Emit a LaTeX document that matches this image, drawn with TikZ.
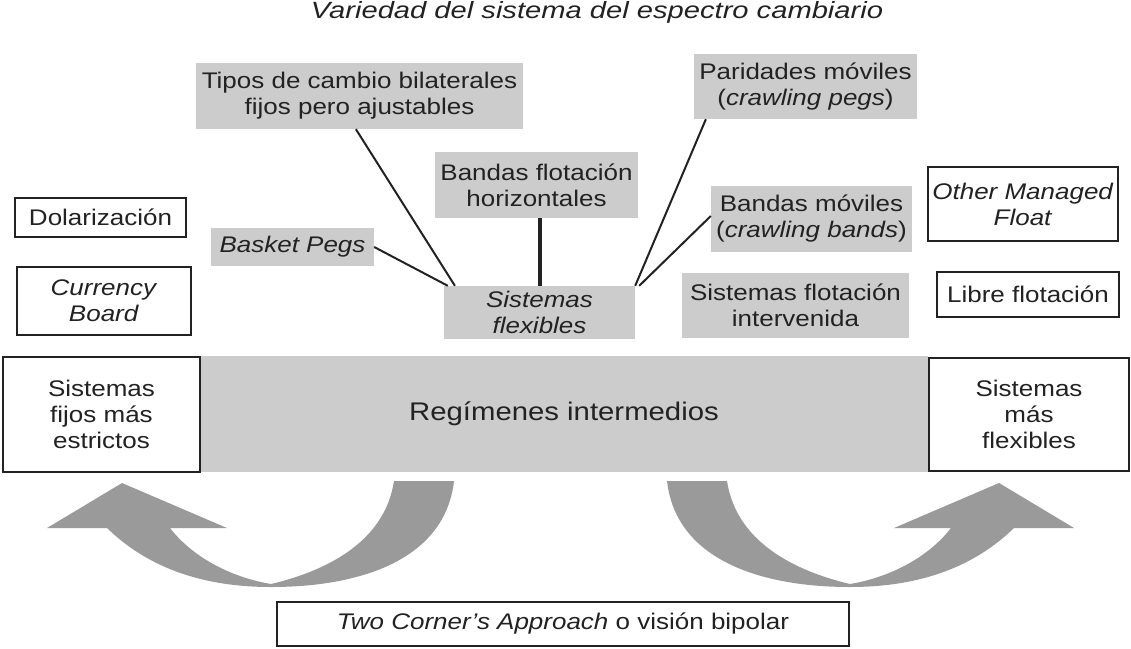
\documentclass[tikz,border=0pt]{standalone}
\usepackage{fontspec}
\setmainfont{Liberation Sans}[FakeStretch=1.15]
\newfontfamily\titlefont{Liberation Sans}[FakeStretch=1.24]
\usetikzlibrary{calc}
\definecolor{boxgray}{HTML}{CCCCCC}
\definecolor{arrowgray}{HTML}{9A9A9A}
\definecolor{textcol}{HTML}{222222}
\tikzset{
  lbl/.style={align=center, inner sep=0pt, text=textcol, font=\fontsize{22.6}{26}\selectfont},
  graybox/.style={lbl, fill=boxgray},
  whitebox/.style={lbl, fill=white, draw=textcol, line width=2pt},
  conn/.style={draw=textcol, line width=2pt},
  thickconn/.style={draw=textcol, line width=4pt},
  bigarrow/.style={fill=arrowgray},
}
\begin{document}
\begin{tikzpicture}[x=1pt, y=-1pt]
\useasboundingbox (0,0) rectangle (1131,648);
% title
\node[lbl, font=\fontsize{23.5}{27}\titlefont\itshape, anchor=base] (title) at (597,18) {Variedad del sistema del espectro cambiario};
% top boxes
\node[graybox, minimum width=327, minimum height=66] (tipos) at (359.5,96) {Tipos de cambio bilaterales\\fijos pero ajustables};
\node[graybox, minimum width=223, minimum height=65] (parid) at (805.5,86.5) {Paridades móviles\\(\textit{crawling pegs})};
\node[graybox, minimum width=203, minimum height=66] (bhoriz) at (536.5,185) {Bandas flotación\\horizontales};
\node[whitebox, minimum width=171, minimum height=39] (dolar) at (100.5,217.5) {Dolarización};
\node[graybox, minimum width=163, minimum height=38] (basket) at (292.5,247) {\textit{Basket Pegs}};
\node[graybox, minimum width=201, minimum height=66] (bmov) at (811.5,219) {Bandas móviles\\(\textit{crawling bands})};
\node[whitebox, minimum width=190, minimum height=74] (omf) at (1023,204) {\textit{Other Managed}\\\textit{Float}};
\node[whitebox, minimum width=174, minimum height=68] (cboard) at (104,301) {\textit{Currency}\\\textit{Board}};
\node[graybox, minimum width=191, minimum height=53] (sflex) at (539.5,312.5) {\textit{Sistemas}\\\textit{flexibles}};
\node[graybox, minimum width=227, minimum height=65] (sfint) at (795.5,305.5) {Sistemas flotación\\intervenida};
\node[whitebox, minimum width=182, minimum height=45] (libre) at (1028,294.5) {Libre flotación};
% main bar
\node[graybox, minimum width=728, minimum height=116, font=\fontsize{25.5}{30}\selectfont] (regim) at (564,414) {Regímenes intermedios};
\node[whitebox, minimum width=197, minimum height=115] (sfijos) at (101.5,414.5) {Sistemas\\fijos más\\estrictos};
\node[whitebox, minimum width=200, minimum height=113] (smflex) at (1029,414.5) {Sistemas\\más\\flexibles};
% bottom box
\node[whitebox, minimum width=572, minimum height=44] (twoc) at (563,624) {\textit{Two Corner’s Approach} o visión bipolar};
% connectors
\draw[conn] ($(tipos.south west)!0.489!(tipos.south east)$) -- ($(sflex.north west)!0.058!(sflex.north east)$);
\draw[conn] (basket.east) -- ($(sflex.north west)+(4,0)$);
\draw[thickconn] (sflex.north |- bhoriz.south) -- (sflex.north);
\draw[conn] ($(parid.south west)!0.054!(parid.south east)$) -- (sflex.north east);
\draw[conn] ($(bmov.west)+(0,-3)$) -- ($(sflex.north east)+(4,0)$);
% curved arrows
\path[bigarrow] (454,481) .. controls (445,560) and (360,587) .. (271,587)
  .. controls (190,587) and (140,560) .. (107,528) -- (47,528) -- (122,483) -- (227,528) -- (170,528)
  .. controls (195,560) and (235,578) .. (271,584)
  .. controls (330,570) and (385,540) .. (394,481) -- cycle;
\begin{scope}[xshift=1121pt, xscale=-1]
\path[bigarrow] (454,481) .. controls (445,560) and (360,587) .. (271,587)
  .. controls (190,587) and (140,560) .. (107,528) -- (47,528) -- (122,483) -- (227,528) -- (170,528)
  .. controls (195,560) and (235,578) .. (271,584)
  .. controls (330,570) and (385,540) .. (394,481) -- cycle;
\end{scope}
\end{tikzpicture}
\end{document}
